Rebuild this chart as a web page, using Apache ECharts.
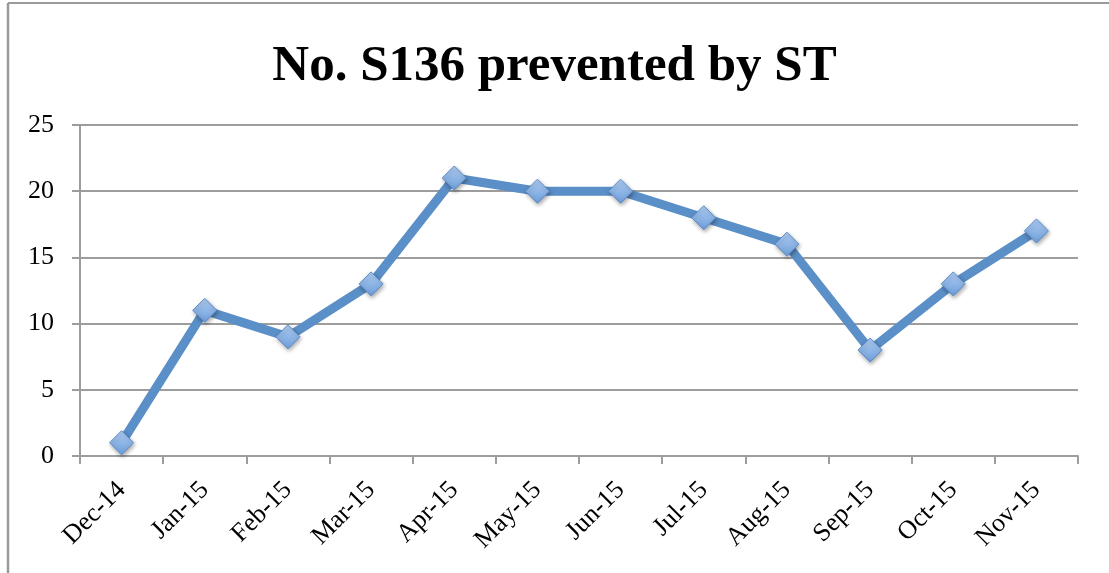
<!DOCTYPE html>
<html>
<head>
<meta charset="utf-8">
<script src="https://cdn.jsdelivr.net/npm/echarts@6/dist/echarts.min.js"></script>
<style>
  html, body { margin: 0; padding: 0; background: #fff; }
  #chart { width: 1109px; height: 573px; }
</style>
</head>
<body>
<div id="chart"></div>
<script>
// data
const months = ["Dec-14", "Jan-15", "Feb-15", "Mar-15", "Apr-15", "May-15",
  "Jun-15", "Jul-15", "Aug-15", "Sep-15", "Oct-15", "Nov-15"];
const prevented = [1, 11, 9, 13, 21, 20, 20, 18, 16, 8, 13, 17];
const yTicks = [0, 5, 10, 15, 20, 25];

const serif = "'Liberation Serif', 'DejaVu Serif', serif";
const gray = "#9d9d9d";

const chart = echarts.init(document.getElementById("chart"));
chart.setOption({
  animation: false,
  title: {
    text: "No. S136 prevented by ST",
    left: "center",
    top: 36,
    textStyle: {
      fontFamily: serif,
      fontWeight: "bold",
      fontSize: 51,
      color: "#000"
    }
  },
  grid: { left: 80, right: 31, top: 125, bottom: 117 },
  xAxis: {
    type: "category",
    data: months,
    boundaryGap: true,
    axisLine: { lineStyle: { color: gray, width: 2 } },
    axisTick: { show: true, length: 8, alignWithLabel: false, lineStyle: { color: gray, width: 2 } },
    axisLabel: {
      rotate: 45,
      margin: 30,
      fontFamily: serif,
      fontSize: 26,
      color: "#000",
      interval: 0
    }
  },
  yAxis: {
    type: "value",
    min: yTicks[0],
    max: yTicks[yTicks.length - 1],
    interval: 5,
    axisLine: { show: true, lineStyle: { color: gray, width: 2 } },
    axisTick: { show: true, length: 8, lineStyle: { color: gray, width: 2 } },
    splitLine: { lineStyle: { color: gray, width: 2 } },
    axisLabel: {
      margin: 26,
      fontFamily: serif,
      fontSize: 26,
      color: "#000"
    }
  },
  graphic: [
    { type: "line", shape: { x1: 8, y1: 3, x2: 8, y2: 573 }, style: { stroke: "#9a9a9a", lineWidth: 2.5 } },
    { type: "line", shape: { x1: 8, y1: 3, x2: 1109, y2: 3 }, style: { stroke: "#9a9a9a", lineWidth: 2 } }
  ],
  series: [
    {
      type: "line",
      data: prevented,
      symbol: "diamond",
      symbolSize: 24,
      lineStyle: { color: "#5b8fc8", width: 9 },
      itemStyle: {
        color: new echarts.graphic.LinearGradient(0, 0, 0, 1, [
          { offset: 0, color: "#b0cdf2" },
          { offset: 1, color: "#6d9edb" }
        ]),
        borderColor: "#5a8cca",
        borderWidth: 1,
        shadowColor: "rgba(0,0,0,0.35)",
        shadowBlur: 4,
        shadowOffsetX: 1,
        shadowOffsetY: 2
      },
      emphasis: { disabled: true }
    }
  ]
});
</script>
</body>
</html>
